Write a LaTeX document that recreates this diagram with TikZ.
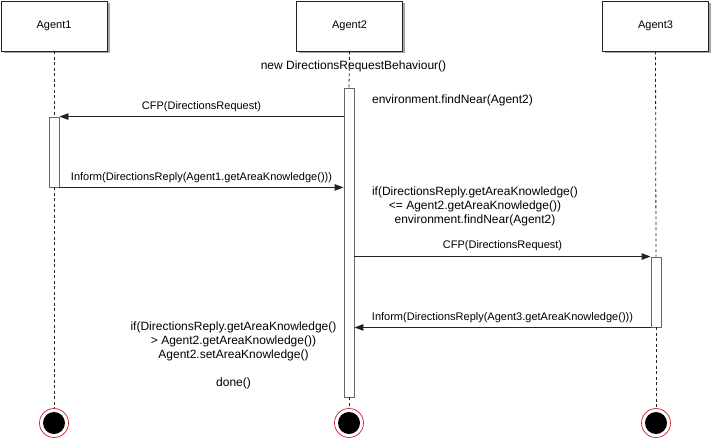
\documentclass[tikz,border=0pt]{standalone}
\usepackage{fontspec}
\setmainfont{Liberation Sans}
\usetikzlibrary{arrows.meta,shadows}
\definecolor{linec}{HTML}{222222}
\definecolor{barc}{HTML}{666666}
\definecolor{endred}{HTML}{D0202A}
\tikzset{
  agentbox/.style={draw=linec, line width=0.8pt, fill=white, minimum width=106pt, minimum height=50pt,
    drop shadow={shadow xshift=2.5pt, shadow yshift=-2.5pt, fill=black, opacity=0.35}},
  actbar/.style={draw=barc, line width=0.9pt, fill=white, minimum width=10pt, inner sep=0pt},
  life/.style={draw=linec, dashed, dash pattern=on 3pt off 2.5pt, line width=0.8pt},
  msg/.style={draw=linec, line width=0.9pt, -{Triangle[length=9pt,width=6.5pt]}},
  lbl/.style={font=\fontsize{11}{14}\selectfont, inner sep=1pt, align=center},
  note/.style={font=\fontsize{12}{14}\selectfont, inner sep=1pt, align=center},
  endout/.style={circle, draw=endred, line width=0.7pt, fill=white, minimum size=29pt, inner sep=0pt},
  endin/.style={circle, fill=black, minimum size=22pt, inner sep=0pt},
}
\begin{document}
\begin{tikzpicture}[x=1pt,y=-1pt]
\useasboundingbox (0,0) rectangle (714,441);
\fill[white] (0,0) rectangle (714,441);
% agent boxes
\node[agentbox, lbl] (A1) at (54,26) {Agent1};
\node[agentbox, lbl] (A2) at (349.5,26) {Agent2};
\node[agentbox, lbl] (A3) at (655.5,26) {Agent3};
% activation bars
\node[actbar, minimum height=309pt] (b2) at (349,242.5) {};
\node[actbar, minimum height=70pt] (a1) at (54,152) {};
\node[actbar, minimum height=70pt] (a3) at (656,292) {};
% end markers
\node[endout] (E1) at (54,423) {};
\node[endin] (F1) at (E1) {};
\node[endout] (E2) at (349,423) {};
\node[endin] (F2) at (E2) {};
\node[endout] (E3) at (656,423) {};
\node[endin] (F3) at (E3) {};
% lifelines
\draw[life] (A1.south) -- (a1.north);
\draw[life] (a1.south) -- (E1.north);
\draw[life] (A2.south) -- (b2.north);
\draw[life] (b2.south) -- (E2.north);
\draw[life] (A3.south) -- (a3.north);
\draw[life] (a3.south) -- (E3.north);
% messages
\draw[msg] (b2.west |- a1.north) -- (a1.north east)
  node[lbl, midway, above=3pt] (m1) {CFP(DirectionsRequest)};
\draw[msg] (a1.south east) -- (b2.west |- a1.south)
  node[lbl, midway, above=3pt] (m2) {Inform(DirectionsReply(Agent1.getAreaKnowledge()))};
\draw[msg] (b2.east |- a3.north) -- (a3.north west)
  node[lbl, midway, above=4pt] (m3) {CFP(DirectionsRequest)};
\draw[msg] (a3.south west) -- (b2.east |- a3.south)
  node[lbl, midway, above=3pt] (m4) {Inform(DirectionsReply(Agent3.getAreaKnowledge()))};
% notes
\node[note] (n1) at (353.5,66) {new DirectionsRequestBehaviour()};
\node[note] (n2) at (452.5,100) {environment.findNear(Agent2)};
\node[note] (n3) at (475,206) {if(DirectionsReply.getAreaKnowledge()\\ {<}= Agent2.getAreaKnowledge())\\ environment.findNear(Agent2)};
\node[note] (n4) at (233.5,355) {if(DirectionsReply.getAreaKnowledge()\\ {>} Agent2.getAreaKnowledge())\\ Agent2.setAreaKnowledge()\\ \\ done()};
\end{tikzpicture}
\end{document}
